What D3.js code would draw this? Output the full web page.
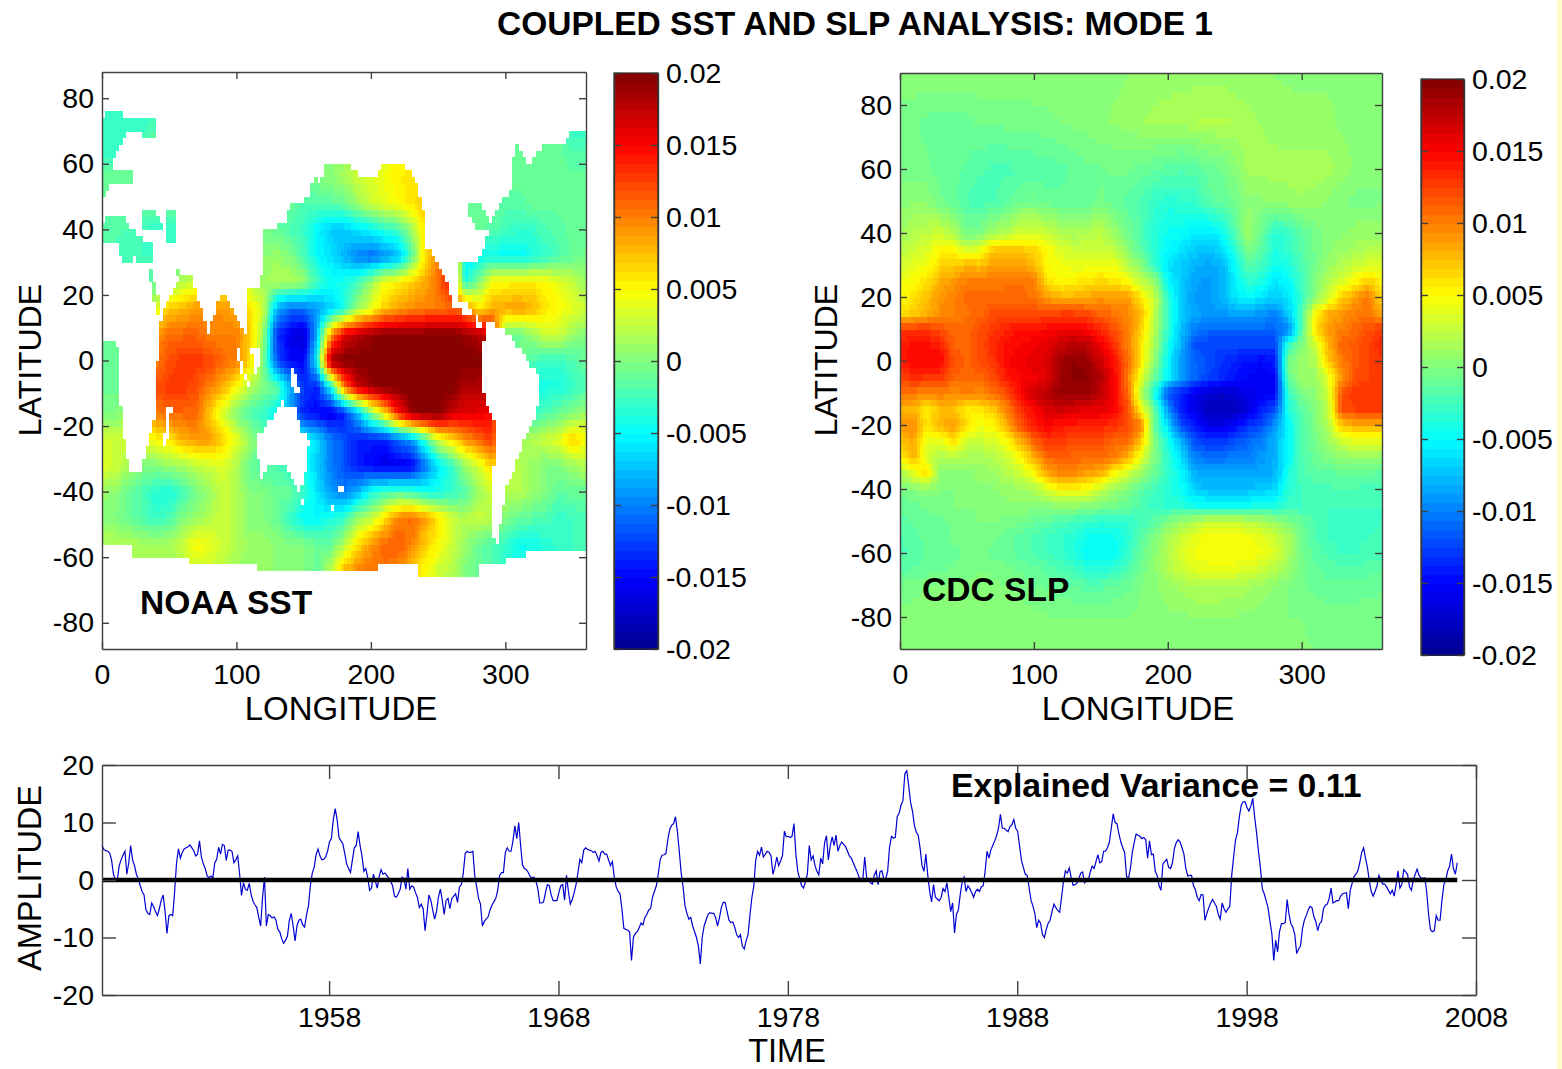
<!DOCTYPE html>
<html>
<head>
<meta charset="utf-8">
<title>Coupled SST and SLP analysis</title>
<script src="https://cdn.jsdelivr.net/npm/d3@7"></script>
<style>
  html, body { margin: 0; padding: 0; background: #fff; }
  svg { display: block; }
  text { font-family: "Liberation Sans", Arial, sans-serif; fill: #000; }
  .axis path, .axis line { stroke: #404040; stroke-width: 1.4; }
  .axis text { font-size: 28.5px; fill: #000; }
</style>
</head>
<body>
<svg id="chart" width="1562" height="1069"></svg>
<script>
// values, field values are in units of 0.001
const lonNodes = d3.range(0, 361, 10);

const sstLats = [72, 64, 56, 48, 40, 32, 24, 16, 8, 0, -8, -16, -24, -32, -40, -48, -56, -64];
const sstField = [
  [-3,-3,-3,-3,-2,-2,-2,-2,-2,-2,-2,-2,-2,-2,-2,-2,-2,-2,-2,-2,-2,-2,-2,-2,-2,-2,-2,-2,-2,-2,-2,-2,-2,-2,-2,-3,-3],
  [-3,-3,-2,-1,-1,-1,-1,-1,-1,-1,-1,-1,-1,-1,-1,-1,0,0.5,1,2,2.5,3.5,4.5,5,5,4,2,0,-1,-1,-1,-1,-1,-1,-1,-2,-2],
  [-1,-1,-1,-1,-1,-1,-1,-1,-1,-1,-1,-1,-1,-1,-1,-1,0,0.5,1.5,3,3.5,4.5,5.5,6,6,5,3,1,-1,-1,-1,-1,-1,-1,-1,-1,-1],
  [-1,-1,-1,-1,-1,-1,-1,-1,-1,-1,-1,-1,-1,-1,-1,-2,-2,-1.5,-1,1,3,4,5,6,7,7,3,-1,-1,-1,-1.5,-1.5,-1,-1,-1,-1,-1],
  [-1.5,-1.5,-2,-2.5,-3,-3,-3,-3,-3,-2,-1,-1,-0.5,-1,-2,-3,-5,-7,-7,-6,-5,-3.5,-2.5,1,6,8,4,-1,-1,-1.5,-2.5,-3,-3,-2,-1.5,-1,-1],
  [-2.5,-2.5,-2.5,-2.5,-2.5,-2,-2,-1,-1,0,0,0,0.5,1,0,-2,-5,-6,-8,-10,-11,-9.5,-8,-2,6,10,11,-6,-5,-4.5,-5,-5,-4,-3,-2,-1,-0.5],
  [-2,-2,-2,-2,-1,0,2,3,4,5,5,2,1,2,2,1,-2.5,-4.5,-4,-2.5,1,4.5,5.5,7,8,11,14,-4,0,5,5,5.5,5.5,5,4,2.5,1],
  [0,0,0,0,4,7,8,9,9,9,8,6,3,-8,-11,-10.5,-9,-7,-4,1,4,7,8.5,9.5,10,10,11,10,6,8,8.5,9,8,6,5,4,3],
  [-0.5,-0.5,-0.5,-0.5,9,11,11,11,10,10,10,7,1,-13,-16,-17,-8,9,16,18,19,20,20,20,20,20,20,19,18,16,-1,-1,1,3,3,1,0],
  [-1,-1,0,5,10,12,13,13,12.5,11,10,6,0,-12,-15,-15,-5,19,20,20,20,20,20,20,20,20,20,20,20,18,-1,0,-2,-3,-3,-2,-1],
  [-1,-1,0,6,12,13,13,12,10,8,5,2,0,-1,-8,-13,-14,-5,10,17,19,20,20,20,20,20,20,18,18,18,-3,-3,-4,-4,-4,-3,-2],
  [0,0,1,5,10,11,11,11,7,3,0,-2,-3,-5,-9,-14,-15,-16,-14,-8,0,6,14,19,20,20,17,16,16,15,-2,-3,-3,-2,-1,0,1],
  [3.5,3,3,4,5,6,8,9,9,7,4,1,-1,-2,-3,-4,-6,-10,-12,-14,-14,-14,-11,-9,-3,3,6,9,11,13,1,1,2,3,4,7,5],
  [4,3,1.5,0,0,1,1.5,2.5,3,3.5,2,-1,-2,-2,-3,-4,-7,-10,-12,-14,-15,-16,-16,-15.5,-11,-6,-3,1,3,7,3,2,1,0,0,1,2],
  [1,0.5,-1,-2,-3.5,-4,-2.5,-0.5,1,3,2,0,0,-1,-1,-3,-6,-9,-10,-8,-4,-2.5,-2,-2.5,-4,-4,-3,-2,1,3,2,2,1,0,-1.5,-1,-1],
  [0,0,-1,-2,-3,-2,0,1,2,3,2,0,0,-1,-3,-5,-5,-4,-3,1,2.5,6,10,11,9,6,3,2,3,2,0,-1,-1.5,-2,-3,-2.5,-2],
  [2,2,2,1.5,1.5,1.5,3,5,4,3,2,1,1,0.5,0,0,-1,-1,2,6,9,11,11.5,10,7,5,3,1,-1,-2,-3,-4.5,-4.5,-3.5,-3,-2.5,-2.5],
  [1,1,1,1,1,1,2,3,3,2,1,1,1,0.5,0.5,0,-1,2,8,10,10.5,10.5,9.5,7,5,3,2,0,-1,-2,-3,-4,-3,-3,-3,-2,-2]
];

const slpLats = [90, 75, 60, 50, 40, 35, 30, 25, 20, 15, 10, 5, 0, -5, -10, -15, -20, -25, -30, -35, -40, -45, -50, -55, -60, -65, -70, -80, -90];
const slpField = [
  [0.5,0.5,0.5,0.5,0.5,0.5,0.5,0.5,0.5,0.5,0.5,0.5,0.5,0.5,0.5,0.5,0.5,0.6,0.8,1,1,1,1,1,1,0.8,0.8,0.6,0.6,0.5,0.5,0.5,0.5,0.5,0.5,0.5,0.5],
  [-0.5,-0.5,-0.8,-1,-1,-0.8,-0.5,-0.5,-0.4,-0.4,-0.3,-0.2,0,0.2,0.3,0.5,0.7,0.9,1.2,1.4,1.5,1.6,1.8,2,2,1.8,1.5,1.2,1,0.9,0.8,0.8,0.8,0.5,0.3,0.1,0],
  [-0.5,-0.5,-0.5,-0.8,-1,-1.4,-1.8,-2,-2,-1.9,-1.7,-1.6,-1.5,-1.1,-0.8,-0.7,-0.5,-0.5,-0.9,-1.2,-1.5,-1.8,-1.6,-1,-0.6,0.2,1.5,1.5,1.5,1.5,1.5,1.5,1.5,1,0.5,0.2,0],
  [0.5,0.5,0.5,-0.5,-1,-2,-2.2,-2,-1.5,-0.5,-0.5,-1,-1,-1.2,-1,-0.5,-1,-1.5,-2,-3,-3.5,-3.2,-3,-1.5,-1,-0.5,0.5,0.5,0.8,1,1.2,1,0.5,0,-0.2,-0.2,0],
  [1,2,2.5,3,2,-0.5,0,1.5,2,3.5,3.5,3,2,1.5,2,2.5,1,-0.5,-2,-3.5,-4.5,-4.8,-5.5,-6,-5,-2,1.5,-1,-3.5,-3,-1.5,-0.5,0.3,0.5,1,1,1],
  [2,3,3.5,5,5,3,4,7,7.5,7,6.5,5,3.5,3,3,3,2.5,0.5,-1.5,-3.5,-5,-6,-7,-7.5,-6.5,-3.5,0,-1.5,-4,-3,-1.5,-0.5,0.5,1,1.5,2,2],
  [3,4,4.5,6.5,7,8,7.5,9,9,9,8,5,4.5,4,4,4.5,4.5,2,0.5,-3,-6,-7,-8,-8.5,-8,-5,-1.5,-2.5,-4.5,-4,-2,-0.5,1,2,3,3.5,3.5],
  [4,5,6,8,9,10,10,10,10.5,10.5,10,6,5,5.5,6,6.5,6,5,2.5,1,-5,-7,-8.5,-9,-8,-5.5,-3,-4,-6,-5,-2.5,0,2,3.5,5,7,5],
  [5,6,7.5,9,10,11,11,11,11,11,10.5,9,8,8,8.5,9,9,9,6,3,-3,-7,-9,-9,-8,-6,-5,-6,-7,-6,-3,0.5,3,7,9,10.5,6],
  [6,7,8,9.5,10,10.5,11,12,12,12,12,12,12.5,12.5,12,11,10.5,9.5,7.5,2.5,-3,-7,-8.5,-9,-9,-8.5,-8.5,-9,-10,-7,-2,5,8,9,10,10.5,8],
  [13,13,13,12,11,11,12,13,14,14.5,14.5,15,15.5,15.5,15,13.5,12,10,7,2,-3,-7.5,-10,-11,-11,-11,-11,-11,-11,-10,-1.5,6,9,10,11,12,13],
  [14,14.5,14.5,14,11,11,12,13.5,14.5,15,15.5,16,17,18,17.5,15.5,13,10,6,1.5,-4,-8,-12,-12.5,-12.5,-12.5,-12.5,-12.5,-12.5,-3,0,3,8,11,11.5,12.5,13.5],
  [14,15,15,15,12,11,12,13,15,15.5,16,16.5,19,19.5,19,17,14.5,11,6,0.5,-5,-9,-11,-12,-13,-14,-14.5,-15,-14,0,1,1.5,7,10,11.5,12.5,13],
  [12,13.5,13,13,11,11,11,12,14,15,15.5,16,19,19.5,19.5,18,15,10,4,-1,-5,-9,-11,-12.5,-13.5,-14.5,-15,-15.5,-15,-1,1,1,4,9,12,12.5,12.5],
  [10.5,10,9.5,10,9.5,10,9.5,10.5,12,15,17,18,19,19,19,17.5,15,11,2,-4,-12,-14,-16,-17,-17.5,-17,-16,-15.5,-15,-3,0,0.5,3,12,13,13,13],
  [8,8,5.5,7.5,7.5,5.5,6,7,10,13,15,16.5,17,16.5,16,16,15,12,5,-1,-9,-14,-16,-18,-18,-18,-16.5,-14,-12,-4,-1.5,0,2.5,12,12.5,13,13],
  [9,9.5,6,8,9,6,4.5,5,8,12,14,15,14,14,13.5,13.5,13,12,10,-1,-6,-12,-14,-16,-16,-15,-13,-12,-9,-5,-2,0,2,7,8,8,8],
  [7,8.5,4,4,6,3,3,3.5,5,8,11,13,13,12,12,12,11,11,7,0,-4,-8,-12,-13,-13,-12,-11,-10,-8,-5,-2,-0.5,1,3,4,4,4],
  [5,8,3.5,1.5,2,1.5,1.5,2,3,5,8,11,11,11,11,11,10,8,4,0,-3,-6,-10,-10.5,-10.5,-10,-10,-9,-8,-5,-2,-1,0,0.5,1,1,0.5],
  [1.5,4,6,0.5,0.5,0.5,0.8,1,2,3,5,8.5,9.5,9.5,8.5,8,5,3,1,-1,-3,-5,-8,-8.5,-8.5,-8.5,-8.5,-8.5,-8,-4,-2,-1.5,-1.5,-1,-1,-1,-1.5],
  [-0.5,0,0.5,0,0,0,0.5,0.5,0.8,1,1.5,3.5,5,5,4.5,2.5,1,0,-1.5,-2.5,-3.5,-4.5,-7,-7.5,-7.5,-7.5,-7.5,-7,-6.5,-3.5,-2.5,-2,-2,-2,-2,-2.5,-2.5],
  [-1,-0.8,-0.5,-0.2,0,0,0.3,0.5,0.5,0.5,0.5,0.5,0.8,0.8,0.5,0,-0.5,-1,-2,-3,-3.2,-3.5,-4.5,-4.5,-4.5,-4.5,-4.5,-4,-4,-3,-2.5,-2.5,-2.5,-2.5,-2.5,-2.5,-2.5],
  [-1.5,-1.2,-1,-0.8,-0.5,-0.3,0,0,-0.3,-0.5,-1,-1.5,-2,-2.5,-3,-3.5,-3.5,-3,-2.5,-1.5,0,1,2,3,3,3,2.5,2,1,0,-1,-2,-2.5,-2.8,-2.8,-2.8,-2.5],
  [-2,-1.5,-1,-1,-0.5,-0.5,-0.3,-0.5,-1,-1.5,-2,-2.5,-3,-3.5,-4.5,-4.8,-4.5,-3.5,-1.5,0,1.5,3,4,4.8,5,4.8,4.5,4,3,1.5,-0.5,-2,-2.5,-2.8,-2.8,-2.5,-2.2],
  [-2,-1.8,-1.2,-1,-0.8,-0.5,-0.5,-0.8,-1,-1.5,-2,-2.5,-3,-3.8,-5,-5,-4.8,-3,-1,0.5,2,3.5,4.5,5,5,5,4.8,4.5,3.5,1.5,-0.5,-1.5,-2,-2.5,-2.5,-2.2,-2],
  [-1.5,-1.2,-1,-0.8,-0.5,-0.3,0,-0.2,-0.5,-0.8,-1,-1.5,-2,-2.5,-3.5,-3.5,-3,-2,-0.5,0.5,1.8,3,3.8,4,4,4,3.5,3,2,1,-0.5,-1,-1.5,-1.8,-1.8,-1.5,-1.5],
  [-0.5,-0.3,0,0,0.2,0.2,0.3,0.2,0,-0.2,-0.5,-0.8,-1,-1.3,-1.5,-1.5,-1.2,-0.8,0,0.5,1,1.5,2,2,2,1.8,1.5,1,0.5,0,-0.5,-0.8,-1,-1,-1,-0.8,-0.8],
  [0.2,0.3,0.5,0.5,0.5,0.6,0.6,0.5,0.4,0.3,0.2,0.1,0,0,0,0,0,0,0.2,0.3,0.5,0.5,0.5,0.5,0.5,0.5,0.5,0.3,0.2,0,0,-0.2,-0.3,-0.3,-0.3,-0.3,-0.2],
  [0.4,0.4,0.4,0.5,0.5,0.5,0.5,0.5,0.5,0.4,0.4,0.3,0.3,0.3,0.3,0.3,0.3,0.3,0.3,0.4,0.4,0.4,0.4,0.4,0.4,0.4,0.3,0.3,0.2,0.2,0.1,0,0,0,0,0,0]
];

// land in the SST map, [lon, lat] outlines
const sstLand = [
  [[0,92],[360,92],[360,70.1],[350,70.1],[345,66],[330,66],[321.5,63],[318,60.4],[313,61.5],[310,66],[307,65.7],[305.4,59.4],[305.4,51.3],[299,50.8],[295.5,48.2],[287,40],[283,32],[279.5,30],[264.6,29.9],[264.6,18.7],[272,18.7],[273.3,16],[282,12.5],[285.6,11.5],[278,10.5],[275.7,14],[261,16],[257,22.7],[248.5,30.9],[240,35],[238.6,48.2],[230,57.4],[222.5,60.2],[209,60],[204,56.4],[190,56.4],[184,60],[165.6,60],[163,54.3],[157,56.4],[154.5,51.3],[144.6,47.2],[139.6,47.7],[137,43.1],[128.5,40],[120,40],[121,31],[117.3,22.7],[107.4,22.2],[108,9.5],[105.4,8],[100,12.5],[90,22.2],[79,8.5],[65.3,26.3],[59,26.3],[44.3,13.6],[41.8,3.4],[40,-6.8],[39.4,-16],[33,-27],[29.5,-33.3],[20.8,-33.5],[14.6,-20],[12,-2.8],[12,2.3],[11,5.9],[0,6.4]],
  [[285,11.5],[291,12],[303,7.4],[313,2.3],[326.5,-5.8],[322.8,-17.2],[313,-25.4],[300.5,-39.7],[294.3,-56],[289.4,-54],[290.6,-46.8],[289.4,-36.7],[292.6,-27.8],[292.6,-19],[287,-15.5],[282,-6.2],[283.2,3]],
  [[116,-22.1],[122.3,-19.6],[128.5,-16],[134.7,-12],[138.4,-14.5],[144.6,-14],[148.3,-21],[154,-24.2],[153.3,-31.3],[149.5,-37.4],[145.8,-40],[142.1,-35.4],[133.4,-31.8],[124.7,-32.3],[118.6,-35.9],[116,-29.2]],
  [[138.4,-2.2],[140.8,-2.2],[149.5,-9.9],[142,-9.9]],
  [[98.8,3.4],[101.2,3.4],[110,-7.8],[107.4,-7.8]],
  [[111,3.4],[118.6,3.4],[114.9,-3.8],[112.4,-3.8]],
  [[46.8,-14],[51.7,-14],[48,-25.7],[46,-25.7]],
  [[175.5,-37.9],[181,-37.9],[181,-40],[175.5,-40]],
  [[170,-44],[172,-44],[172,-45.8],[170,-45.8]],
  [[147.5,-42],[149.5,-42],[149.5,-44],[147.5,-44]],
  [[0,-56],[23,-56],[23.3,-59.8],[64,-59.8],[64,-61.9],[114.9,-61.9],[114.9,-63.9],[204,-63.9],[205,-62.4],[233.7,-62.4],[236,-65.9],[280.7,-65.9],[280.7,-62.9],[300.5,-62.9],[300.5,-59.8],[315,-59.8],[315,-58.3],[360,-58.3],[360,-92],[0,-92]]
];

// inland seas cut back out of the land
const sstSeas = [
  [[3.5,76.2],[15.8,76.2],[15.8,74.2],[39.9,74.2],[39.9,68.1],[29.5,68.1],[29.5,70.1],[19.6,70.1],[14.6,66.6],[8.4,62],[8.4,57.9],[23.3,57.9],[23.3,54.5],[5.9,53.5],[0,50.3],[0,71.7]],
  [[0,40],[3.5,44.1],[13.4,44.1],[15.8,46.2],[17,42.1],[23.3,40],[29.5,36.9],[38,35.9],[38,30.4],[27,30.4],[22,31.9],[20.8,30.4],[15.8,30.4],[12.1,34],[12.1,36.5],[0,36.5]],
  [[29.5,46.2],[39,46.2],[44.3,40.6],[29.5,40.6]],
  [[48,46.2],[56,46.2],[56,36.5],[48,36.5]],
  [[34.4,27.8],[37,27.8],[44.3,13.6],[41,13.6]],
  [[50.5,30],[52,30],[57,27],[60,26],[57,25]],
  [[270.8,48.2],[279.5,48.2],[287,43.1],[287,41],[279.5,40],[274.5,44.1]]
];

const colorTicks = [0.02, 0.015, 0.01, 0.005, 0, -0.005, -0.01, -0.015, -0.02];
const latTicks = [80, 60, 40, 20, 0, -20, -40, -60, -80];
const lonTicks = [0, 100, 200, 300];
const ampTicks = [20, 10, 0, -10, -20];
const timeTicks = [1958, 1968, 1978, 1988, 1998, 2008];

// amplitude, one row per year, monthly from the start of the axis
const startYear = 1948.1;
const amplitude = [
  6,5.3,5.1,5,4.7,3.5,1,0,0,2.5,3.5,4.3,
  5,1,3,6,3.5,2.5,1,0.2,-1,-2,-2.6,-5.2,
  -5.8,-6,-4,-4.6,-5.5,-6.2,-5,-3.5,-2.6,-5.5,-9.3,-6.2,
  -6,-6.2,-2,3,5.4,3.8,4.8,5.4,5.6,5.8,6.1,5.6,
  5.1,4.2,4.5,6.8,4,2.8,2,0.7,0.4,0.7,0.4,3,
  3.6,5.7,4.5,6.2,6,3.4,5.2,5.2,5,3,3.5,4.2,
  1,-2.7,-0.5,-1.6,-1.8,-0.6,-2.5,-3.7,-4.3,-4.8,-6.5,-8,
  -3,0.5,-8,-6,-6.2,-6.6,-6.4,-7,-8.6,-9,-10.2,-11,
  -10.5,-9.8,-7,-5.8,-8,-10.6,-8,-7,-6.8,-7.8,-8.2,-6,
  -4.5,-1,1.2,2.2,4.4,5.4,4.2,3.5,3.6,4,5,6.6,
  7.2,10.5,12.4,10.5,7.4,6.8,6.3,4.6,2.8,2,1.3,3.5,
  5.6,6,8.4,6,4.2,1.5,2,0.4,-1.8,-1.4,1,-0.2,
  -1.4,0.6,1.8,1,1.2,0.8,0.3,-0.2,-1,-2.8,-3,-2.4,
  -1.6,0.5,0.2,-1.6,2,-1.6,-1,-1.2,-2.2,-3,-4.8,-4.2,
  -5,-8.8,-6,-2.6,-3.5,-5.2,-6.8,-5.5,-3,-1.6,-3.5,-6,
  -3.6,-3.2,-5,-3.2,-2.8,-2.4,-3.9,-1.2,-0.8,1.2,4.6,5,
  4.8,4.8,5,0.8,-1.2,-3.2,-4.2,-8,-7.2,-6.8,-6.4,-5.2,
  -4.4,-3.8,-3.2,-1.8,0.8,1.3,1.3,4.8,5.6,5,5,6.8,
  9.4,7.2,10,6,2.6,2,1.8,1.3,0.6,0.4,0.5,-0.2,
  -1.5,-4,-4,-3.8,-2.2,-0.8,-1,-2.6,-3.6,-3.6,-3.6,-2.2,
  -1,-0.8,-3.5,0.8,-2,-4.2,-3.4,-2.2,-0.8,1.3,3.6,3,
  5.2,5.6,5.3,5.2,5.1,4.8,5,4.2,3.3,4.8,5,4.5,
  4.5,3.5,2.5,3.2,0.5,-1.2,-2,-2.4,-5,-8.4,-8.6,-8.7,
  -9,-14,-10,-9.3,-9,-8.3,-7.5,-7.8,-6.5,-6,-5.2,-5,
  -3,-2,-1,1,3.5,4.3,4.4,4.6,7,8.8,9.5,9.8,
  11,8.5,5,1.2,-1.2,-4.5,-5.8,-6.8,-6.5,-8,-9,-10,
  -11.5,-14.6,-10,-8,-7,-6,-5.7,-5.8,-5.8,-6.5,-8,-6.6,
  -4.8,-3.9,-3.9,-5.5,-7,-7.4,-7.3,-8.2,-9.5,-10,-9.5,-11.5,
  -12,-10.5,-9.5,-6,-3,-1,3.5,5,4.3,5.7,4,4.5,
  5,4.8,4.2,1,2.2,4,2.5,3.3,4.3,8.5,7.5,7.6,
  7.4,7.6,9.8,4.5,1.5,0.2,-1,-1.4,-0.3,1,6,3.5,
  4.2,2.5,1.5,0.9,3.8,2.8,6.4,7.7,3.5,6,7.5,6,
  7.8,5,6,6.6,6.2,5.8,5,4.2,3.8,3,2.2,1.5,
  0.5,0.2,0,4,0.5,0,-0.5,-0.7,0.8,1.6,-0.8,1.4,
  1.6,0.2,0.2,1.5,5.7,7.6,7.3,7.4,11,11.6,13,13.8,
  18.5,19,16.5,13.5,12,9.5,8.3,7.8,5.5,2.5,1.5,4.5,
  0.8,-2,-3.8,-0.8,-3,-3.3,-3.6,-3,-1.5,-2,-0.5,-3,
  -5.5,-4,-9.2,-6,-5.2,-2.5,-0.3,0.5,-2,-1,-1.5,-2.2,
  -3,-2,-1.6,-2,-1.2,-1,1.5,5,3.8,5.2,6,6.8,
  7.7,9,11.4,9,9,8.7,8.4,9.3,9.6,10.5,9,8.5,
  6,3.4,2.2,1,0.8,-1.3,-3.5,-4.5,-5.8,-8.3,-7,-7.5,
  -9.5,-10,-8.6,-7.5,-7,-5.5,-4.2,-4.8,-5.3,-5.6,-3,-0.2,
  1.6,1.2,2.1,0.5,-0.9,-0.8,-0.6,0.2,1.2,1.4,-0.5,-0.2,
  0,1.4,2.4,2,3.2,4.4,3,3.2,5,5,5.6,6.6,
  9,11.5,10,9.8,8,6.6,5.6,4.8,0.6,0.3,2,4.8,
  6.5,8,7.8,7.6,7.2,7.4,7,3.8,6.8,4.4,4.5,1.5,
  0.8,-1,-1.8,2.8,3.2,3.6,2.2,2,3,5.4,6.5,7,
  6.6,5.6,4.5,2,0.7,0.8,0.8,-1,-1.7,-3,-3.6,-2.5,
  -2.6,-7,-5.8,-4.8,-4,-3.4,-4,-4.6,-6,-6.8,-4,-5,
  -5.6,-5,-4.6,0.8,4,7,8.2,11,13,13.6,13.6,12.6,
  12,12.8,14.2,11,8.2,5,2.2,-1.5,-2.4,-3.6,-4.8,-7.2,
  -9.3,-14,-10.5,-12.5,-9,-7.6,-7.6,-7.4,-3.4,-6,-7.6,-8.2,
  -9.5,-12.8,-12,-11.5,-8.5,-7,-6.2,-5.2,-4.6,-4.8,-6.4,-7.2,
  -8.8,-7.6,-7.2,-5,-4.4,-4.2,-3.2,-1.4,-4,-3.8,-3.6,-3.6,
  -2.8,-2.4,-2.3,-2.2,-5,-1.8,-0.6,0.6,1,1.6,3,4.8,
  5.6,3.8,2.2,-0.2,-2,-2.8,-2,-1,0.8,0,-0.7,-0.7,
  -1.2,-1.8,-2.4,-1.8,-2.8,-0.8,1.6,-1.4,-0.8,1.8,1.4,1,
  -1.2,-1.8,0,1,1.9,0.8,0.4,0.3,0.4,-2,-6,-8.7,
  -9,-8.8,-6.2,-7,-7,-3.5,-0.8,0,1.6,2.4,4.5,2,
  1,3
];

const svg = d3.select('#chart');

// pale strip down the right edge of the scan
svg.append('rect').attr('x', 1557).attr('y', 0).attr('width', 5).attr('height', 1069).attr('fill', '#fffdc8');

// MATLAB jet, 64 levels
const jet = d3.scaleLinear()
  .domain([0, 0.125, 0.375, 0.625, 0.875, 1])
  .range(['#000090', '#0000ff', '#00ffff', '#ffff00', '#ff0000', '#800000']);
const jetColors = d3.range(64).map(i => jet((i + 0.5) / 64));
const colorScale = d3.scaleQuantize().domain([-20, 20]).range(jetColors);

// shade between the read grid nodes, same as shading interp
function sampleField(field, lats, lon, lat) {
  const la = Math.max(lats[lats.length - 1], Math.min(lats[0], lat));
  let r = 0;
  while (r < lats.length - 2 && lats[r + 1] > la) r++;
  const tr = (lats[r] - la) / (lats[r] - lats[r + 1]);
  const c = Math.min(35, Math.floor(lon / 10));
  const tc = (lon - lonNodes[c]) / 10;
  const top = field[r][c] * (1 - tc) + field[r][c + 1] * tc;
  const bot = field[r + 1][c] * (1 - tc) + field[r + 1][c + 1] * tc;
  return top * (1 - tr) + bot * tr;
}

function isLand(lon, lat) {
  const p = [lon, lat];
  if (sstSeas.some(s => d3.polygonContains(s, p))) return false;
  return sstLand.some(s => d3.polygonContains(s, p));
}

function drawMap(opts) {
  const { x0, x1, y0, y1, latDomain, field, lats, mask, latTitleX, name, nameX, nameY } = opts;
  const x = d3.scaleLinear().domain([0, 360]).range([x0, x1]);
  const y = d3.scaleLinear().domain(latDomain).range([y1, y0]);
  const g = svg.append('g');

  const cells = [];
  for (let lon = 0; lon < 360; lon += 2.5) {
    for (let lat = latDomain[0]; lat < latDomain[1]; lat += 2) {
      const midLon = lon + 1.25, midLat = lat + 1;
      if (mask && mask(midLon, midLat)) continue;
      cells.push({ lon, lat, v: sampleField(field, lats, midLon, midLat) });
    }
  }
  g.append('g').attr('shape-rendering', 'crispEdges')
    .selectAll('rect').data(cells).join('rect')
    .attr('x', d => x(d.lon))
    .attr('y', d => y(d.lat + 2))
    .attr('width', d => x(d.lon + 2.5) - x(d.lon) + 0.5)
    .attr('height', d => y(d.lat) - y(d.lat + 2) + 0.5)
    .attr('fill', d => colorScale(d.v));

  g.append('g').attr('class', 'axis').attr('transform', `translate(0,${y1})`)
    .call(d3.axisBottom(x).tickValues(lonTicks).tickSizeInner(-7).tickSizeOuter(0).tickPadding(15).tickFormat(d => String(d)));
  g.append('g').attr('class', 'axis').attr('transform', `translate(0,${y0})`)
    .call(d3.axisTop(x).tickValues(lonTicks).tickSizeInner(-7).tickSizeOuter(0).tickFormat(''));
  g.append('g').attr('class', 'axis').attr('transform', `translate(${x0},0)`)
    .call(d3.axisLeft(y).tickValues(latTicks).tickSizeInner(-7).tickSizeOuter(0).tickPadding(8).tickFormat(d => String(d)));
  g.append('g').attr('class', 'axis').attr('transform', `translate(${x1},0)`)
    .call(d3.axisRight(y).tickValues(latTicks).tickSizeInner(-7).tickSizeOuter(0).tickFormat(''));

  g.append('text').attr('x', (x0 + x1) / 2 - 3).attr('y', 720).attr('text-anchor', 'middle')
    .style('font-size', '33px').text('LONGITUDE');
  g.append('text').attr('transform', `translate(${latTitleX},360) rotate(-90)`).attr('text-anchor', 'middle')
    .style('font-size', '32px').text('LATITUDE');
  g.append('text').attr('x', nameX).attr('y', nameY).style('font-size', '33.6px').style('font-weight', 'bold').text(name);

  // colour bar
  const cb = opts.colorbar;
  const cy = d3.scaleLinear().domain([-0.02, 0.02]).range([cb.y1, cb.y0]);
  const cg = svg.append('g').attr('shape-rendering', 'crispEdges');
  cg.selectAll('rect').data(jetColors).join('rect')
    .attr('x', cb.x0)
    .attr('width', cb.x1 - cb.x0)
    .attr('y', (d, i) => cy(-0.02 + (i + 1) * 0.04 / 64))
    .attr('height', (cb.y1 - cb.y0) / 64 + 0.5)
    .attr('fill', d => d);
  svg.append('g').attr('class', 'axis').attr('transform', `translate(${cb.x1},0)`)
    .call(d3.axisRight(cy).tickValues(colorTicks).tickSizeInner(-7).tickSizeOuter(0).tickPadding(8).tickFormat(d => String(d)));
  svg.append('g').attr('class', 'axis').attr('transform', `translate(${cb.x0},0)`)
    .call(d3.axisLeft(cy).tickValues(colorTicks).tickSizeInner(-7).tickSizeOuter(0).tickFormat(''));
  svg.append('rect').attr('x', cb.x0).attr('y', cb.y0)
    .attr('width', cb.x1 - cb.x0).attr('height', cb.y1 - cb.y0)
    .attr('fill', 'none').attr('stroke', '#303030').attr('stroke-width', 1.2);
}

drawMap({
  x0: 102, x1: 586, y0: 72, y1: 649, latDomain: [-88, 88],
  field: sstField, lats: sstLats, mask: isLand, latTitleX: 41,
  name: 'NOAA SST', nameX: 140, nameY: 614,
  colorbar: { x0: 614, x1: 658, y0: 73, y1: 649 }
});
drawMap({
  x0: 900, x1: 1382, y0: 73, y1: 649, latDomain: [-90, 90],
  field: slpField, lats: slpLats, latTitleX: 837,
  name: 'CDC SLP', nameX: 922, nameY: 601,
  colorbar: { x0: 1421, x1: 1464, y0: 79, y1: 655 }
});

svg.append('text').attr('x', 855).attr('y', 35).attr('text-anchor', 'middle')
  .style('font-size', '33.5px').style('font-weight', 'bold')
  .text('COUPLED SST AND SLP ANALYSIS: MODE 1');

// time series panel
const tx = d3.scaleLinear().domain([1948.1, 2008]).range([102, 1476]);
const ty = d3.scaleLinear().domain([-20, 20]).range([995, 765]);
const line = d3.line().x((d, i) => tx(startYear + i / 12)).y(d => ty(d));

svg.append('path').datum(amplitude)
  .attr('d', line).attr('fill', 'none').attr('stroke', '#0000d0').attr('stroke-width', 1.2);
svg.append('line')
  .attr('x1', tx(startYear)).attr('x2', tx(startYear + (amplitude.length - 1) / 12))
  .attr('y1', ty(0)).attr('y2', ty(0))
  .attr('stroke', '#000').attr('stroke-width', 4.5);

svg.append('g').attr('class', 'axis').attr('transform', 'translate(0,995)')
  .call(d3.axisBottom(tx).tickValues(timeTicks).tickSizeInner(-14).tickSizeOuter(0).tickPadding(12).tickFormat(d => String(d)));
svg.append('g').attr('class', 'axis').attr('transform', 'translate(0,765)')
  .call(d3.axisTop(tx).tickValues(timeTicks).tickSizeInner(-14).tickSizeOuter(0).tickFormat(''));
svg.append('g').attr('class', 'axis').attr('transform', 'translate(102,0)')
  .call(d3.axisLeft(ty).tickValues(ampTicks).tickSizeInner(-14).tickSizeOuter(0).tickPadding(8).tickFormat(d => String(d)));
svg.append('g').attr('class', 'axis').attr('transform', 'translate(1476,0)')
  .call(d3.axisRight(ty).tickValues(ampTicks).tickSizeInner(-14).tickSizeOuter(0).tickFormat(''));

svg.append('text').attr('x', 787).attr('y', 1062).attr('text-anchor', 'middle')
  .style('font-size', '32.5px').text('TIME');
svg.append('text').attr('transform', 'translate(41,878) rotate(-90)').attr('text-anchor', 'middle')
  .style('font-size', '32.5px').text('AMPLITUDE');
svg.append('text').attr('x', 951).attr('y', 797)
  .style('font-size', '33.8px').style('font-weight', 'bold')
  .text('Explained Variance = 0.11');
</script>
</body>
</html>
